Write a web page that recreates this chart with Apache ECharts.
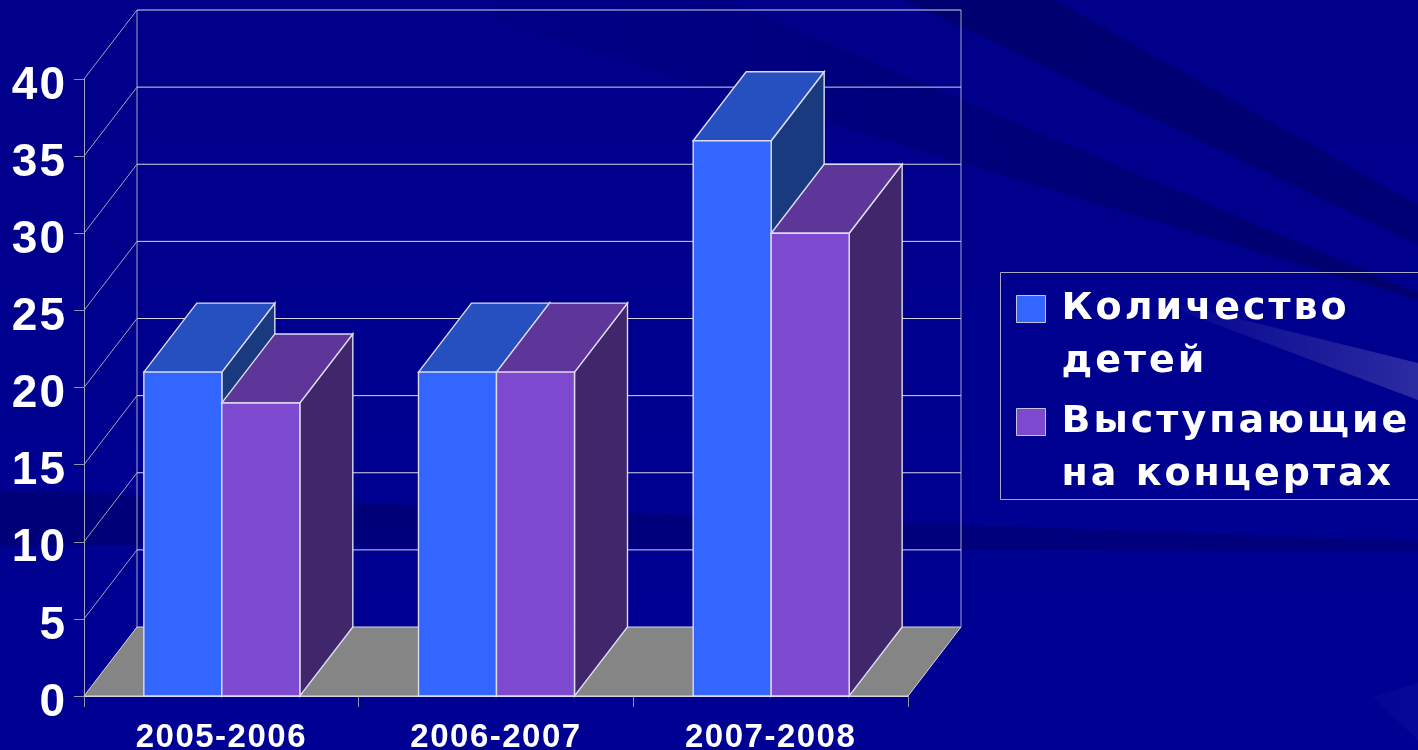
<!DOCTYPE html>
<html><head><meta charset="utf-8">
<style>html,body{margin:0;padding:0;background:#00008c;overflow:hidden}#c{width:1418px;height:750px}</style>
<script src="https://cdn.jsdelivr.net/npm/echarts@6/dist/echarts.min.js"></script>
</head><body><div id="c"></div>
<script>
const categories = ['2005-2006','2006-2007','2007-2008'];
const seriesNames = ['Количество детей','Выступающие на концертах'];
const legendLines = {'Количество детей':'Количество\nдетей','Выступающие на концертах':'Выступающие\nна концертах'};
const children = [21,21,36];
const performers = [19,21,30];
const yTicks = [0,5,10,15,20,25,30,35,40];

// widen text tracking to match the reference (by font size)
const track = {46:2, 38:3, 33:1.5};
['fillText','measureText'].forEach(function(fn){
  const orig = CanvasRenderingContext2D.prototype[fn];
  CanvasRenderingContext2D.prototype[fn] = function(){
    const m = /(\d+(?:\.\d+)?)px/.exec(this.font);
    this.letterSpacing = ((m && track[Math.round(+m[1])]) || 0) + 'px';
    return orig.apply(this, arguments);
  };
});

const DX = 53, DY = 69, BAR = 78;
const FONT = '"Liberation Sans", Arial, sans-serif';
const WIDE = '"DejaVu Sans", sans-serif';
const EDGE = '#dcdcee';

function barRenderer(front, top, side, offset){
  return function(params, api){
    const p = api.coord([api.value(0), api.value(1)]);
    const b = api.coord([api.value(0), 0]);
    const x0 = p[0] + offset * BAR + 0.5, x1 = x0 + BAR, y = p[1], y0 = b[1];
    const st = function(fill){ return {fill: fill, stroke: EDGE, lineWidth: 1.4}; };
    return {type:'group', children:[
      {type:'polygon', shape:{points:[[x1,y],[x1+DX,y-DY],[x1+DX,y0-DY],[x1,y0]]}, style:st(side)},
      {type:'polygon', shape:{points:[[x0,y],[x0+DX,y-DY],[x1+DX,y-DY],[x1,y]]}, style:st(top)},
      {type:'rect', shape:{x:x0,y:y,width:BAR,height:y0-y}, style:st(front)}
    ]};
  };
}
function wallRenderer(params, api){
  const v = api.value(1), cs = params.coordSys;
  const y = api.coord([0, v])[1], xl = cs.x, xr = cs.x + cs.width;
  const dim = {stroke:'#a4a4c0', lineWidth:1, fill:null};
  const bright = {stroke:'#d4d4e4', lineWidth:1, fill:null};
  const kids = [];
  if (v === 0) {
    const top = api.coord([0, 40])[1];
    kids.push({type:'polygon', shape:{points:[[xl,y],[xl+DX,y-DY],[xr+DX,y-DY],[xr,y]]}, style:{fill:'#858585', stroke:'#d8d8d8', lineWidth:1}});
    kids.push({type:'line', shape:{x1:xl+DX,y1:y-DY,x2:xl+DX,y2:top-DY}, style:dim});
    kids.push({type:'line', shape:{x1:xr+DX,y1:y-DY,x2:xr+DX,y2:top-DY}, style:dim});
  } else {
    kids.push({type:'line', shape:{x1:xl,y1:y,x2:xl+DX,y2:y-DY}, style:dim});
    kids.push({type:'line', shape:{x1:xl+DX,y1:y-DY,x2:xr+DX,y2:y-DY}, style:bright});
  }
  return {type:'group', children:kids};
}
function band(points, colorA, colorB){
  return {type:'polygon', z:-10, silent:true, shape:{points:points},
    style:{fill:new echarts.graphic.LinearGradient(0,0,1,0,[{offset:0,color:colorA},{offset:1,color:colorB}])}};
}

const chart = echarts.init(document.getElementById('c'), null, {renderer:'canvas'});
chart.setOption({
  backgroundColor:new echarts.graphic.LinearGradient(0,0,0,1,[{offset:0,color:'#00008a'},{offset:1,color:'#000094'}]),
  animation:false,
  grid:{left:84, width:824, top:79, height:617, outerBoundsMode:'none'},
  xAxis:{type:'category', data:categories,
    axisLine:{lineStyle:{color:'#d0d0e0',width:1}},
    axisTick:{show:true,length:11,lineStyle:{color:'#8f8fac'}},
    axisLabel:{color:'#fff',fontFamily:FONT,fontWeight:'bold',fontSize:33,margin:25},
    splitLine:{show:false}},
  yAxis:{type:'value', min:0, max:40, interval:5,
    axisLine:{show:true,lineStyle:{color:'#a4a4c0',width:1}},
    axisTick:{show:true,length:10,lineStyle:{color:'#8f8fac'}},
    axisLabel:{color:'#fff',fontFamily:FONT,fontWeight:'bold',fontSize:46,margin:17,
      formatter:function(v){return '{s| }\n{v|'+v+'}';},
      rich:{s:{fontSize:10,lineHeight:14},v:{color:'#fff',fontFamily:FONT,fontWeight:'bold',fontSize:46,lineHeight:50}}},
    splitLine:{show:false}},
  legend:{show:true, orient:'vertical', left:1016, top:225, padding:0, itemWidth:29, itemHeight:27, itemGap:-55,
    data:seriesNames.map(function(n){return {name:n, icon:'rect'};}),
    selectedMode:false,
    itemStyle:{borderColor:'#c4c4dc',borderWidth:1},
    formatter:function(n){return ' \n'+legendLines[n];},
    textStyle:{color:'#fff',fontFamily:WIDE,fontWeight:'bold',fontSize:38,lineHeight:53,padding:[9,0,0,11]}},
  graphic:{elements:[
    band([[905,0],[1055,0],[1418,205],[1418,245]],'rgba(0,0,40,.25)','rgba(0,0,40,.24)'),
    band([[420,0],[726,0],[1418,293],[1418,300]],'rgba(0,0,40,0)','rgba(0,0,40,.3)'),
    band([[1130,292],[1418,363],[1418,400]],'rgba(255,255,255,0)','rgba(255,255,255,.17)'),
    band([[0,490],[1418,541],[1418,552],[0,545]],'rgba(0,0,50,.25)','rgba(0,0,50,.2)'),
    band([[1373,697],[1418,683],[1418,740]],'rgba(70,70,190,.06)','rgba(70,70,190,.1)'),
    {type:'rect', z:0, silent:true, shape:{x:1000.5,y:272.5,width:430,height:227}, style:{fill:null,stroke:'#a8a8c4',lineWidth:1}}
  ]},
  series:[
    {type:'custom', name:'walls', z:1, clip:false, encode:{x:0,y:1}, renderItem:wallRenderer, silent:true,
      data:yTicks.map(function(v){return [0,v];})},
    {type:'custom', name:seriesNames[0], z:2, clip:false, encode:{x:0,y:1}, itemStyle:{color:'#3366ff'},
      renderItem:barRenderer('#3366ff','#2650c0','#1a3a80',-1),
      data:children.map(function(v,i){return [i,v];})},
    {type:'custom', name:seriesNames[1], z:3, clip:false, encode:{x:0,y:1}, itemStyle:{color:'#7d49cf'},
      renderItem:barRenderer('#7d49cf','#5e3598','#40266a',0),
      data:performers.map(function(v,i){return [i,v];})}
  ]
});
</script></body></html>
